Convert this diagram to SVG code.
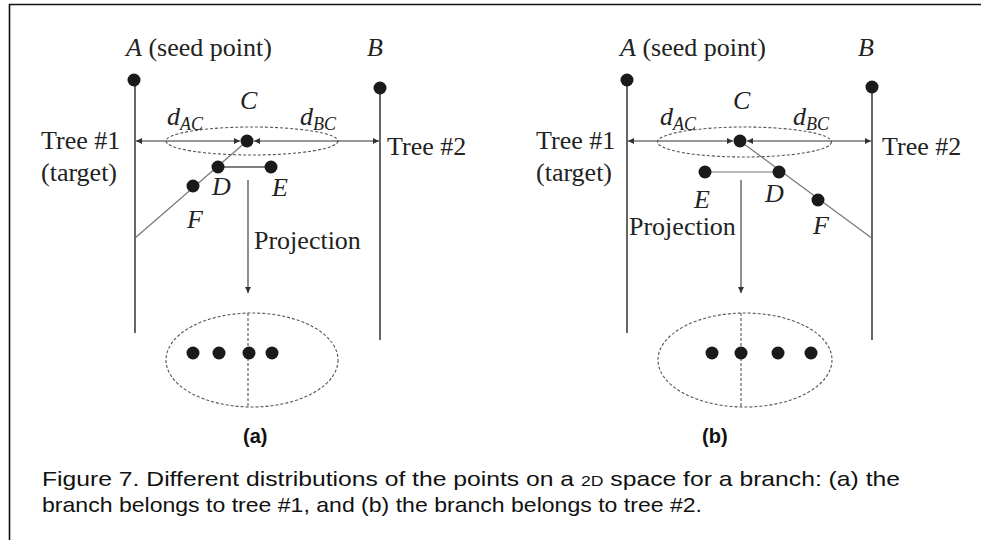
<svg xmlns="http://www.w3.org/2000/svg" width="981" height="540" viewBox="0 0 981 540">
<defs>
<marker id="ah" viewBox="0 0 10 10" refX="10" refY="5" markerWidth="7" markerHeight="6" markerUnits="userSpaceOnUse" orient="auto-start-reverse">
<path d="M0,0 L10,5 L0,10 z" fill="#333"/>
</marker>
</defs>
<style>
.serif{font-family:"Liberation Serif","Times New Roman",serif;font-size:26px;fill:#222}
.it{font-style:italic}
.sub{font-size:18px;font-style:italic}
.cap{font-family:"Liberation Sans",Arial,sans-serif;font-size:21px;fill:#111}
.lbl{font-family:"Liberation Sans",Arial,sans-serif;font-size:20px;font-weight:bold;fill:#111}
.tree{stroke:#555;stroke-width:1.8;fill:none}
.br{stroke:#777;stroke-width:1.2;fill:none}
.de{stroke:#555;stroke-width:1.6;fill:none}
.dim{stroke:#333;stroke-width:1.2;fill:none;marker-start:url(#ah);marker-end:url(#ah)}
.proj{stroke:#444;stroke-width:1.2;fill:none;marker-end:url(#ah)}
.dash{stroke:#555;stroke-width:1.1;fill:none;stroke-dasharray:3 2}
.dot{fill:#1a1a1a}
</style>
<rect width="981" height="540" fill="#fff"/>
<path d="M9.5,540 V4.5 H981" stroke="#111" stroke-width="1.6" fill="none"/>

<!-- Panel (a) -->
<g id="panel-a">
<g id="a-ellipses">
<ellipse class="dash" cx="252" cy="141" rx="86" ry="14"/>
<ellipse class="dash" cx="252" cy="360" rx="86" ry="47"/>
<line class="dash" x1="248" y1="313" x2="248" y2="407"/>
</g>
<g id="a-connectors">
<line class="tree" x1="135" y1="80" x2="135" y2="333"/>
<line class="tree" x1="380" y1="88" x2="380" y2="340"/>
<line class="br" x1="247" y1="141" x2="135" y2="238"/>
<line class="de" x1="218" y1="167" x2="271" y2="167"/>
<line class="dim" x1="136" y1="141" x2="240" y2="141"/>
<line class="dim" x1="254" y1="141" x2="379" y2="141"/>
<line class="proj" x1="248" y1="180" x2="248" y2="293"/>
</g>
<g id="a-A"><circle class="dot" cx="134" cy="80" r="6.5"/><text class="serif" x="126" y="56"><tspan class="it">A</tspan> (seed point)</text></g>
<g id="a-B"><circle class="dot" cx="380" cy="88" r="6.5"/><text class="serif it" x="367" y="56">B</text></g>
<g id="a-C"><circle class="dot" cx="247" cy="141" r="6.5"/><text class="serif it" x="240" y="109">C</text></g>
<g id="a-D"><circle class="dot" cx="218" cy="167" r="6.5"/><text class="serif it" x="212" y="195">D</text></g>
<g id="a-E"><circle class="dot" cx="271" cy="167" r="6.5"/><text class="serif it" x="272" y="196">E</text></g>
<g id="a-F"><circle class="dot" cx="193" cy="186" r="6.5"/><text class="serif it" x="187" y="228">F</text></g>
<text class="serif it" x="167" y="125">d<tspan class="sub" dy="5">AC</tspan></text>
<text class="serif it" x="300" y="125">d<tspan class="sub" dy="5">BC</tspan></text>
<text class="serif" x="41" y="149">Tree #1</text>
<text class="serif" x="41" y="181">(target)</text>
<text class="serif" x="387" y="155">Tree #2</text>
<text class="serif" x="254" y="249">Projection</text>
<g id="a-proj-dots">
<circle class="dot" cx="193" cy="353" r="6.5"/>
<circle class="dot" cx="219" cy="353" r="6.5"/>
<circle class="dot" cx="249" cy="353" r="6.5"/>
<circle class="dot" cx="272" cy="353" r="6.5"/>
</g>
<text class="lbl" x="243" y="443">(a)</text>
</g>

<!-- Panel (b) -->
<g id="panel-b">
<g id="b-ellipses">
<ellipse class="dash" cx="744.5" cy="142" rx="87" ry="15"/>
<ellipse class="dash" cx="745" cy="360" rx="87" ry="47"/>
<line class="dash" x1="741" y1="313" x2="741" y2="407"/>
</g>
<g id="b-connectors">
<line class="tree" x1="627" y1="80" x2="627" y2="333"/>
<line class="tree" x1="872" y1="87" x2="872" y2="340"/>
<line class="br" x1="740" y1="141" x2="873" y2="239"/>
<line class="br" x1="705" y1="172" x2="779" y2="172" stroke="#999" stroke-width="1.6"/>
<line class="dim" x1="628" y1="141" x2="733" y2="141"/>
<line class="dim" x1="747" y1="141" x2="871" y2="141"/>
<line class="proj" x1="741" y1="180" x2="741" y2="293"/>
</g>
<g id="b-A"><circle class="dot" cx="627" cy="80" r="6.5"/><text class="serif" x="620" y="56"><tspan class="it">A</tspan> (seed point)</text></g>
<g id="b-B"><circle class="dot" cx="872" cy="87" r="6.5"/><text class="serif it" x="858" y="56">B</text></g>
<g id="b-C"><circle class="dot" cx="740" cy="141" r="6.5"/><text class="serif it" x="733" y="109">C</text></g>
<g id="b-D"><circle class="dot" cx="779" cy="172" r="6.5"/><text class="serif it" x="765" y="202">D</text></g>
<g id="b-E"><circle class="dot" cx="705" cy="172" r="6.5"/><text class="serif it" x="694" y="208">E</text></g>
<g id="b-F"><circle class="dot" cx="818" cy="200" r="6.5"/><text class="serif it" x="813" y="234">F</text></g>
<text class="serif it" x="660" y="125">d<tspan class="sub" dy="5">AC</tspan></text>
<text class="serif it" x="793" y="125">d<tspan class="sub" dy="5">BC</tspan></text>
<text class="serif" x="536" y="149">Tree #1</text>
<text class="serif" x="536" y="181">(target)</text>
<text class="serif" x="882" y="155">Tree #2</text>
<text class="serif" x="629" y="235">Projection</text>
<g id="b-proj-dots">
<circle class="dot" cx="712" cy="353" r="6.5"/>
<circle class="dot" cx="741" cy="353" r="6.5"/>
<circle class="dot" cx="778" cy="353" r="6.5"/>
<circle class="dot" cx="811" cy="353" r="6.5"/>
</g>
<text class="lbl" x="702" y="443">(b)</text>
</g>

<g id="caption">
<text class="cap" x="42" y="486" textLength="858" lengthAdjust="spacingAndGlyphs">Figure 7. Different distributions of the points on a <tspan font-size="15">2D</tspan> space for a branch: (a) the</text>
<text class="cap" x="42" y="512" textLength="660" lengthAdjust="spacingAndGlyphs">branch belongs to tree #1, and (b) the branch belongs to tree #2.</text>
</g>
</svg>
